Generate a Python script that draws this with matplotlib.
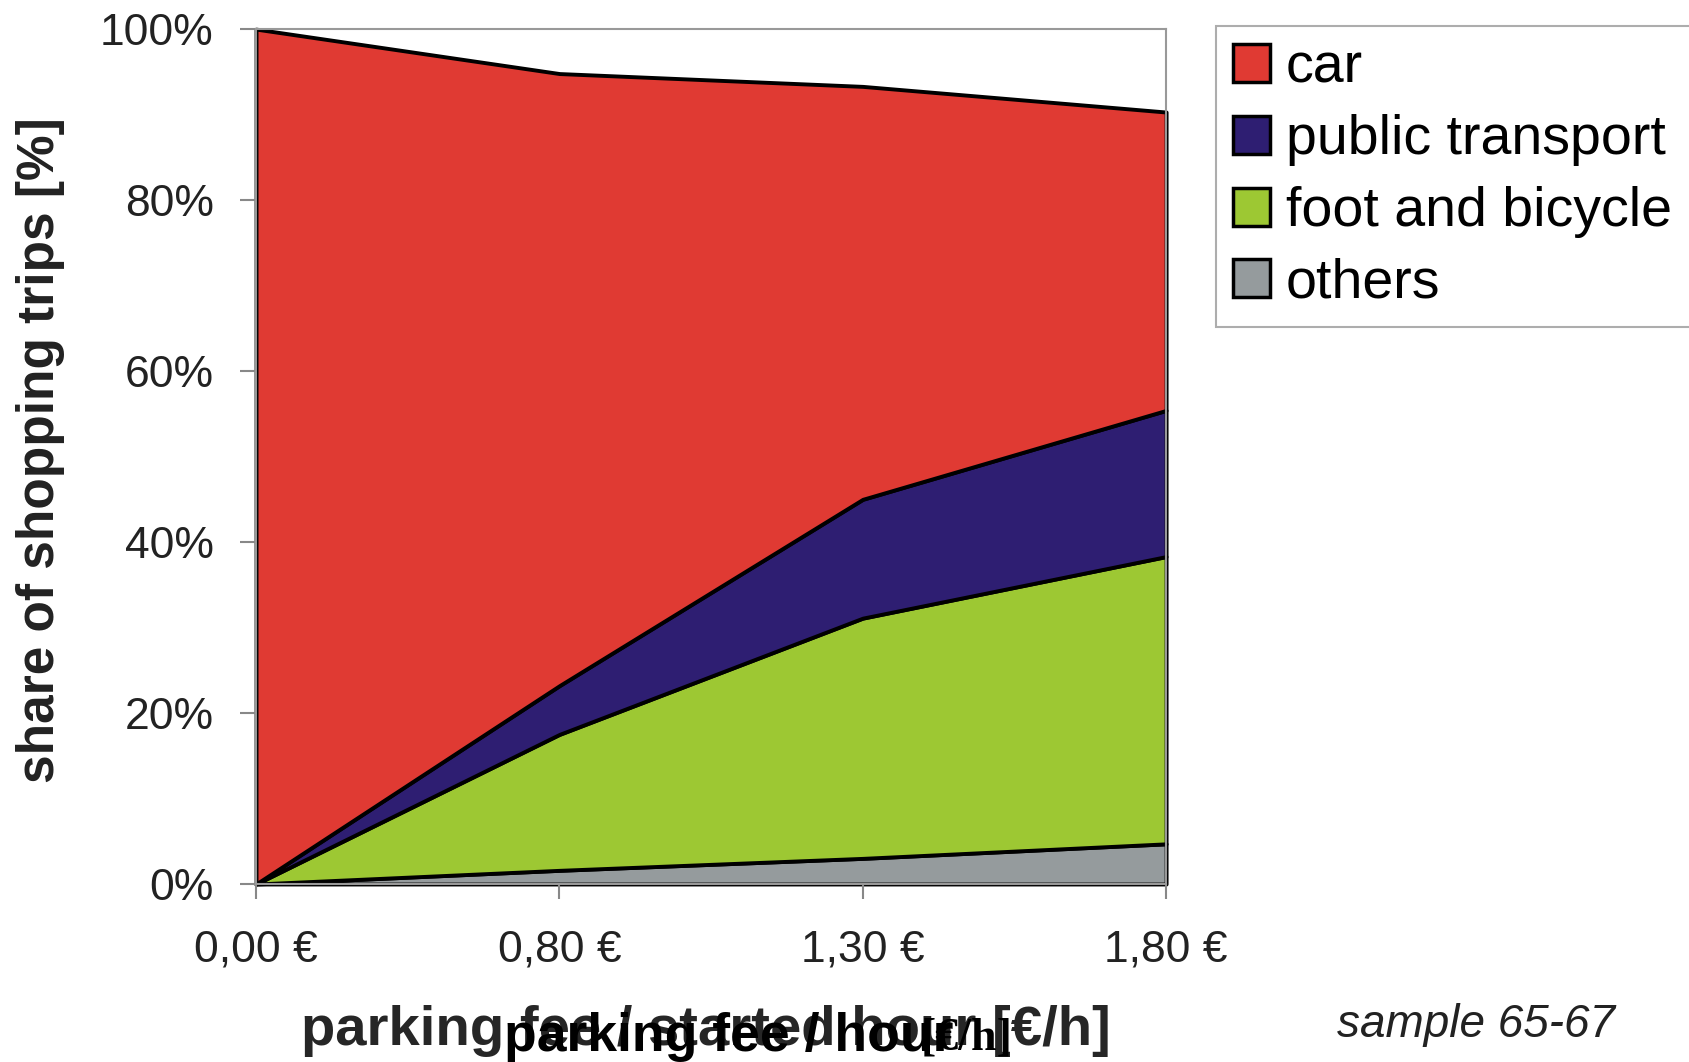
import matplotlib
matplotlib.use("Agg")
from matplotlib import pyplot as plt
from matplotlib.patches import Patch

# parking fee levels (equally spaced on the axis)
fee_labels = ["0,00 €", "0,80 €", "1,30 €", "1,80 €"]

# mode shares in % of shopping trips, stacked bottom to top
others = [0.0, 1.6, 3.0, 4.7]
foot_bicycle = [0.0, 15.9, 28.1, 33.6]
public_transport = [0.0, 5.7, 13.9, 17.1]
car = [100.0, 71.6, 48.3, 34.9]

y_ticks = [0, 20, 40, 60, 80, 100]
y_tick_labels = ["0%", "20%", "40%", "60%", "80%", "100%"]

series_names = ["car", "public transport", "foot and bicycle", "others"]
colors = {"car": "#E03A33", "public transport": "#2E1E72",
          "foot and bicycle": "#9DC833", "others": "#959B9D"}

sans = ["Liberation Sans", "DejaVu Sans"]

fig = plt.figure(figsize=(16.9, 10.62), dpi=100)
ax = fig.add_axes([0.1515, 0.1676, 0.5385, 0.805])

x = list(range(len(fee_labels)))
polys = ax.stackplot(x, others, foot_bicycle, public_transport, car,
                     colors=[colors["others"], colors["foot and bicycle"],
                             colors["public transport"], colors["car"]],
                     edgecolor="black", linewidth=2.8)
for p in polys:
    p.set_clip_on(False)

ax.set_xlim(0, len(fee_labels) - 1)
ax.set_ylim(0, 100)

ax.set_xticks(x)
ax.set_xticklabels(fee_labels, fontsize=32, family=sans, color="#222222")
ax.set_yticks(y_ticks)
ax.set_yticklabels(y_tick_labels, fontsize=32, family=sans, color="#222222")
ax.tick_params(axis="y", direction="out", length=11.5, width=1.5,
               color="#888888", pad=19)
ax.tick_params(axis="x", direction="out", length=11, width=1.5,
               color="#888888", pad=22)

for side in ["top", "right", "left", "bottom"]:
    ax.spines[side].set_color("#999999")
    ax.spines[side].set_linewidth(1.5)

# axis titles
fig.text(41 / 1690, 1 - 450 / 1062, "share of shopping trips [%]",
         rotation=90, ha="center", va="center", fontsize=37,
         fontweight="bold", family=sans, color="#222222")
fig.text(706 / 1690, 1 - 1045 / 1062, "parking fee / started hour [€/h]",
         ha="center", va="baseline", fontsize=40.5, fontweight="bold",
         family=sans, color="#262626")
fig.text(504 / 1690, 1 - 1051 / 1062, "parking fee / hour",
         ha="left", va="baseline", fontsize=38.5, fontweight="bold",
         family=sans, color="black")
fig.text(921 / 1690, 1 - 1049 / 1062, "[€/h]",
         ha="left", va="baseline", fontsize=33, fontweight="bold",
         family=["Liberation Serif", "DejaVu Serif"], color="black")

fig.text(1476 / 1690, 1 - 1037 / 1062, "sample 65-67", ha="center",
         va="baseline", fontsize=33, style="italic", family=sans,
         color="#222222")

handles = [Patch(facecolor=colors[n], edgecolor="black", linewidth=2.5)
           for n in series_names]
leg = fig.legend(handles, series_names, loc="upper left",
                 bbox_to_anchor=(1216 / 1690, 1 - 26 / 1062 - 0.01,
                                 500 / 1690, 0.01),
                 mode="expand",
                 prop={"family": sans, "size": 40},
                 frameon=True, fancybox=False, borderpad=0.3,
                 handlelength=0.68, handleheight=0.68, handletextpad=0.28,
                 labelspacing=0.355, borderaxespad=0)
leg.get_frame().set_edgecolor("#999999")
leg.get_frame().set_linewidth(1.5)

fig.savefig("out.png", dpi=100)
